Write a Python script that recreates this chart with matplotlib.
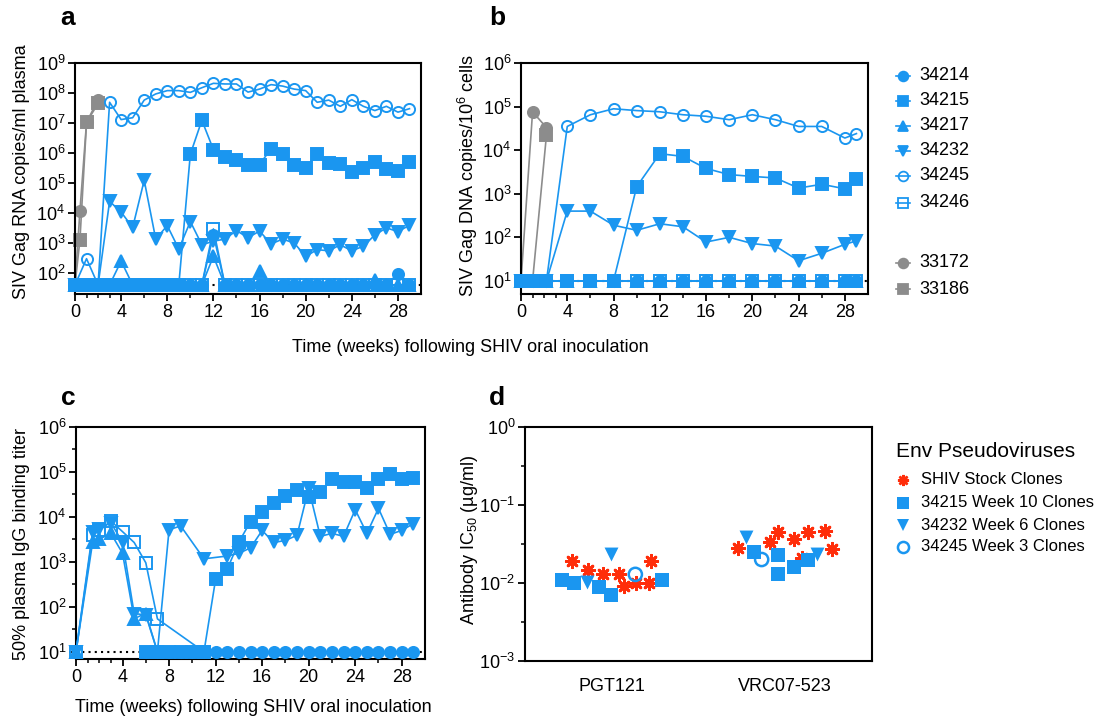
import numpy as np
import matplotlib
matplotlib.use('Agg')
import matplotlib.pyplot as plt
from matplotlib.lines import Line2D
from matplotlib.ticker import FixedLocator, NullLocator, LogLocator, LogFormatterSciNotation

plt.rcParams['font.family'] = ['Liberation Sans', 'DejaVu Sans']
plt.rcParams['mathtext.default'] = 'regular'

# ---------------- DATA ----------------
nan = np.nan
# Panel a: plasma SIV Gag RNA (copies/ml), weekly 0..29
weeks_a = list(range(30))
a_34214 = [40]*12 + [1.9e3] + [40]*15 + [95, 40]
a_34215 = [40]*10 + [9.1e5, 1.23e7, 1.3e6, 7.2e5, 6.0e5, 4.1e5, 4.1e5, 1.4e6, 9.5e5, 4.0e5,
                     3.1e5, 9.5e5, 4.7e5, 4.2e5, 2.3e5, 3.2e5, 4.9e5, 3.0e5, 2.6e5, 5.2e5]
a_34217 = [40]*4 + [250] + [40]*7 + [360] + [40]*3 + [115] + [40]*9 + [60] + [40]*3
a_34232 = [40, 40, 40, 2.45e4, 1.07e4, 3.3e3, 1.23e5, 1.35e3, 3.8e3, 630, 5.2e3, 870, 1.15e3,
           1.35e3, 2.6e3, 1.5e3, 2.5e3, 930, 1.35e3, 1.0e3, 360, 600, 550, 870, 550, 780,
           1.85e3, 3.2e3, 2.4e3, 3.9e3]
a_34245 = [40, 300, 40, 4.9e7, 1.3e7, 1.5e7, 5.8e7, 9.3e7, 1.2e8, 1.2e8, 1.05e8, 1.5e8, 2.1e8,
           2.0e8, 2.0e8, 1.07e8, 1.35e8, 1.9e8, 1.7e8, 1.35e8, 1.2e8, 4.9e7, 5.8e7, 3.6e7,
           6.0e7, 3.6e7, 2.6e7, 3.6e7, 2.3e7, 3.0e7]
a_34246 = [40]*12 + [2.95e3] + [40]*17
weeks_a_ctrl = [0, 0.43, 1, 2]
a_33172 = [40, 1.2e4, 1.05e7, 6.0e7]
a_33186 = [40, 1.3e3, 1.05e7, 4.5e7]
a_limit = 40

# Panel b: cell-associated SIV Gag DNA (copies/10^6 cells)
weeks_b = [0, 1, 2.2, 4, 6, 8, 10, 12, 14, 16, 18, 20, 22, 24, 26, 28, 29]
b_34214 = [10]*17
b_34215 = [10]*6 + [1.45e3, 8.3e3, 7.2e3, 3.8e3, 2.75e3, 2.5e3, 2.3e3, 1.35e3, 1.65e3, 1.3e3, 2.2e3]
b_34217 = [10]*17
b_34232 = [10, 10, 10, 400, 400, 190, 145, 205, 175, 78, 100, 72, 63, 29, 43, 69, 83]
b_34245 = [10, 10, 10, 3.5e4, 6.5e4, 8.9e4, 8.1e4, 7.6e4, 6.5e4, 6.0e4, 5.0e4, 6.5e4, 5.0e4,
           3.5e4, 3.5e4, 1.9e4, 2.4e4]
b_34246 = [10]*17
weeks_b_ctrl = [0, 1, 2.2]
b_33172 = [10, 7.6e4, 3.3e4]
b_33186 = [10, 10, 2.2e4]
b_limit = 10

# Panel c: 50% plasma IgG binding titer
weeks_c = [0, 1.43, 2, 3, 4, 5, 6, 7, 8, 9, 10, 11, 12, 13, 14, 15, 16, 17, 18, 19, 20,
           21, 22, 23, 24, 25, 26, 27, 28, 29]
c_34214 = [nan]*6 + [10]*24
c_34215 = [nan]*6 + [10]*6 + [410, 690, 2.75e3, 7.9e3, 1.3e4, 2.05e4, 2.95e4, 3.9e4, 2.75e4,
                               3.6e4, 6.8e4, 6.0e4, 6.0e4, 4.4e4, 7.1e4, 8.9e4, 7.1e4, 7.4e4]
c_34217 = [10, 2.75e3, 3.2e3, 4.3e3, 1.55e3, 55, 71, 10] + [nan]*22
c_34232 = [10, 4.7e3, 5.5e3, 7.4e3, 2.75e3, 71, 66, 10, 5.2e3, 6.3e3, nan, 1.17e3, nan, 1.35e3,
           1.55e3, 2.05e3, 5.0e3, 2.7e3, 3.0e3, 3.9e3, 4.3e4, 3.7e3, 4.3e3, 3.7e3, 1.45e4,
           4.3e3, 1.55e4, 4.1e3, 5.0e3, 7.1e3]
c_34246 = [10, 3.9e3, 5.0e3, 8.1e3, 4.7e3, 2.7e3, 955, 54, nan, nan, nan, 10] + [nan]*18
c_limit = 10

# Panel d: antibody IC50 (ug/ml), category index + jitter
antibodies = ['PGT121', 'VRC07-523']
d_stock_cat = [0]*8 + [1]*8
d_stock_jit = [-0.228, -0.136, -0.048, 0.042, 0.071, 0.142, 0.214, 0.224,
               -0.270, -0.090, -0.042, 0.048, 0.099, 0.134, 0.228, 0.272]
d_stock_val = [0.0190, 0.0148, 0.0130, 0.0130, 0.0091, 0.0100, 0.0100, 0.0190,
               0.0282, 0.0339, 0.0447, 0.0363, 0.0211, 0.0447, 0.0468, 0.0269]
d_215_cat = [0]*5 + [1]*5
d_215_jit = [-0.289, -0.217, -0.073, -0.002, 0.289, -0.180, -0.042, -0.042, 0.048, 0.134]
d_215_val = [0.0108, 0.0100, 0.0088, 0.0070, 0.0108, 0.0251, 0.0229, 0.0130, 0.0162, 0.0195]
d_232_cat = [0, 0, 1, 1]
d_232_jit = [-0.145, -0.002, -0.226, 0.182]
d_232_val = [0.0103, 0.0238, 0.0390, 0.0234]
d_245_cat = [0, 1]
d_245_jit = [0.136, -0.136]
d_245_val = [0.0129, 0.0200]

# ---------------- STYLE ----------------
BLUE = '#1A96F0'
GRAY = '#8C8C8C'
RED = '#FF2D0A'
FS = 13

W, H = 1101, 719
fig = plt.figure(figsize=(W / 100, H / 100), dpi=100)


def add_ax(l, t, r, b):
    return fig.add_axes([l / W, 1 - b / H, (r - l) / W, (b - t) / H])


def style_ax(ax):
    for s in ax.spines.values():
        s.set_linewidth(1.5)
        s.set_color('black')
    ax.tick_params(axis='both', which='major', labelsize=FS, length=5, width=1.3, pad=2)
    ax.tick_params(axis='both', which='minor', length=3, width=1.1)


def week_axis(ax):
    ax.set_xlim(0, 30)
    ax.xaxis.set_major_locator(FixedLocator([0, 4, 8, 12, 16, 20, 24, 28]))
    ax.xaxis.set_minor_locator(FixedLocator([1, 2, 3, 6, 10, 14, 18, 22, 26]))


def plot_series(ax, x, y, marker, color, filled, ms=8, z=3):
    x = np.asarray(x, float)
    y = np.asarray(y, float)
    m = ~np.isnan(y)
    ax.plot(x[m], y[m], color=color, lw=1.2, marker=marker, ms=ms,
            mfc=color if filled else 'none', mec=color, mew=1.4,
            clip_on=False, zorder=z)


def log_y(ax, lo, hi, minor_half=False):
    ax.set_yscale('log')
    ax.set_ylim(lo, hi)
    ax.yaxis.set_major_locator(LogLocator(base=10, numticks=20))
    ax.yaxis.set_major_formatter(LogFormatterSciNotation())
    if minor_half:
        exps = np.arange(-4, 10)
        ax.yaxis.set_minor_locator(FixedLocator(10.0 ** (exps + 0.5)))
    else:
        ax.yaxis.set_minor_locator(NullLocator())


# ---------------- PANEL A ----------------
ax_a = add_ax(75, 63, 421, 294)
style_ax(ax_a)
week_axis(ax_a)
log_y(ax_a, 10 ** 1.3, 1e9)
ax_a.plot([0, 30], [a_limit, a_limit], ls=(0, (1, 2)), color='black', lw=1.5, zorder=2)
plot_series(ax_a, weeks_a_ctrl, a_33172, 'o', GRAY, True, z=2)
plot_series(ax_a, weeks_a_ctrl, a_33186, 's', GRAY, True, z=2)
plot_series(ax_a, weeks_a, a_34245, 'o', BLUE, False)
plot_series(ax_a, weeks_a, a_34214, 'o', BLUE, True)
plot_series(ax_a, weeks_a, a_34217, '^', BLUE, True)
plot_series(ax_a, weeks_a, a_34232, 'v', BLUE, True)
plot_series(ax_a, weeks_a, a_34246, 's', BLUE, False)
plot_series(ax_a, weeks_a, a_34215, 's', BLUE, True)

# ---------------- PANEL B ----------------
ax_b = add_ax(521, 63, 868, 294)
style_ax(ax_b)
week_axis(ax_b)
log_y(ax_b, 10 ** 0.7, 1e6)
ax_b.plot([0, 30], [b_limit, b_limit], ls=(0, (1, 2)), color='black', lw=1.5, zorder=2)
plot_series(ax_b, weeks_b_ctrl, b_33172, 'o', GRAY, True, z=2)
plot_series(ax_b, weeks_b_ctrl, b_33186, 's', GRAY, True, z=2)
plot_series(ax_b, weeks_b, b_34245, 'o', BLUE, False)
plot_series(ax_b, weeks_b, b_34214, 'o', BLUE, True)
plot_series(ax_b, weeks_b, b_34217, '^', BLUE, True)
plot_series(ax_b, weeks_b, b_34232, 'v', BLUE, True)
plot_series(ax_b, weeks_b, b_34246, 's', BLUE, False)
plot_series(ax_b, weeks_b, b_34215, 's', BLUE, True)

# ---------------- PANEL C ----------------
ax_c = add_ax(76, 427, 425, 659)
style_ax(ax_c)
week_axis(ax_c)
log_y(ax_c, 10 ** 0.84, 1e6, minor_half=True)
ax_c.plot([0, 30], [c_limit, c_limit], ls=(0, (1, 2)), color='black', lw=1.5, zorder=2)
plot_series(ax_c, weeks_c, c_34214, 'o', BLUE, True)
plot_series(ax_c, weeks_c, c_34215, 's', BLUE, True)
plot_series(ax_c, weeks_c, c_34217, '^', BLUE, True)
plot_series(ax_c, weeks_c, c_34232, 'v', BLUE, True)
plot_series(ax_c, weeks_c, c_34246, 's', BLUE, False)

# ---------------- PANEL D ----------------
ax_d = add_ax(525, 427, 872, 661)
style_ax(ax_d)
ax_d.set_xlim(-0.5, 1.5)
log_y(ax_d, 1e-3, 1e0, minor_half=True)
ax_d.set_xticks(range(len(antibodies)))
ax_d.set_xticklabels(antibodies)
ax_d.tick_params(axis='x', which='both', length=0, pad=12)
ax_d.scatter(np.array(d_stock_cat) + np.array(d_stock_jit), d_stock_val, marker=(8, 2, 0),
             s=80, color=RED, linewidths=2.0, zorder=3)
ax_d.scatter(np.array(d_215_cat) + np.array(d_215_jit), d_215_val, marker='s',
             s=110, color=BLUE, linewidths=0, zorder=3)
ax_d.scatter(np.array(d_232_cat) + np.array(d_232_jit), d_232_val, marker='v',
             s=100, color=BLUE, linewidths=0, zorder=3)
ax_d.scatter(np.array(d_245_cat) + np.array(d_245_jit), d_245_val, marker='o',
             s=90, facecolors='none', edgecolors=BLUE, linewidths=1.8, zorder=3)

# ---------------- TEXT ----------------
for lab, x, y in [('a', 68, 18), ('b', 497, 18), ('c', 68, 398), ('d', 497, 398)]:
    fig.text(x / W, 1 - y / H, lab, fontsize=19, fontweight='bold', ha='center', va='center')

fig.text(22 / W, 1 - 172 / H, 'SIV Gag RNA copies/ml plasma', rotation=90,
         fontsize=FS, ha='center', va='center')
fig.text(468 / W, 1 - 175 / H, 'SIV Gag DNA copies/10$^{6}$ cells', rotation=90,
         fontsize=FS, ha='center', va='center')
fig.text(470 / W, 1 - 347 / H, 'Time (weeks) following SHIV oral inoculation',
         fontsize=FS, ha='center', va='center')
fig.text(22 / W, 1 - 544 / H, '50% plasma IgG binding titer', rotation=90,
         fontsize=FS, ha='center', va='center')
fig.text(253 / W, 1 - 708 / H, 'Time (weeks) following SHIV oral inoculation',
         fontsize=FS, ha='center', va='center')
fig.text(470 / W, 1 - 540 / H, 'Antibody IC$_{50}$ (\u00b5g/ml)', rotation=90,
         fontsize=FS, ha='center', va='center')

# legend for panels a/b
leg_ab = [('34214', 'o', BLUE, True, 75.7), ('34215', 's', BLUE, True, 100.7),
          ('34217', '^', BLUE, True, 126), ('34232', 'v', BLUE, True, 150.7),
          ('34245', 'o', BLUE, False, 176), ('34246', 's', BLUE, False, 202.7),
          ('33172', 'o', GRAY, True, 262.7), ('33186', 's', GRAY, True, 289.3)]
for name, mk, col, filled, y in leg_ab:
    yy = 1 - y / H
    fig.add_artist(Line2D([896 / W, 910 / W], [yy, yy], color=col, lw=1.2,
                          transform=fig.transFigure))
    fig.add_artist(Line2D([903 / W], [yy], marker=mk, ms=7, color=col,
                          mfc=col if filled else 'none', mec=col, mew=1.3, ls='none',
                          transform=fig.transFigure))
    fig.text(919 / W, yy, name, fontsize=FS, ha='left', va='center')

# legend for panel d
fig.text(896 / W, 1 - 452 / H, 'Env Pseudoviruses', fontsize=15, ha='left', va='center')
leg_d = [('SHIV Stock Clones', (8, 2, 0), RED, True, 480),
         ('34215 Week 10 Clones', 's', BLUE, True, 502.7),
         ('34232 Week 6 Clones', 'v', BLUE, True, 525),
         ('34245 Week 3 Clones', 'o', BLUE, False, 546.7)]
for name, mk, col, filled, y in leg_d:
    yy = 1 - y / H
    fig.add_artist(Line2D([903 / W], [yy], marker=mk, ms=8, color=col,
                          mfc=col if filled else 'none', mec=col,
                          mew=1.8 if not filled or mk == (8, 2, 0) else 0, ls='none',
                          transform=fig.transFigure))
    fig.text(921 / W, yy, name, fontsize=12, ha='left', va='center')

fig.savefig('out.png', dpi=100)
